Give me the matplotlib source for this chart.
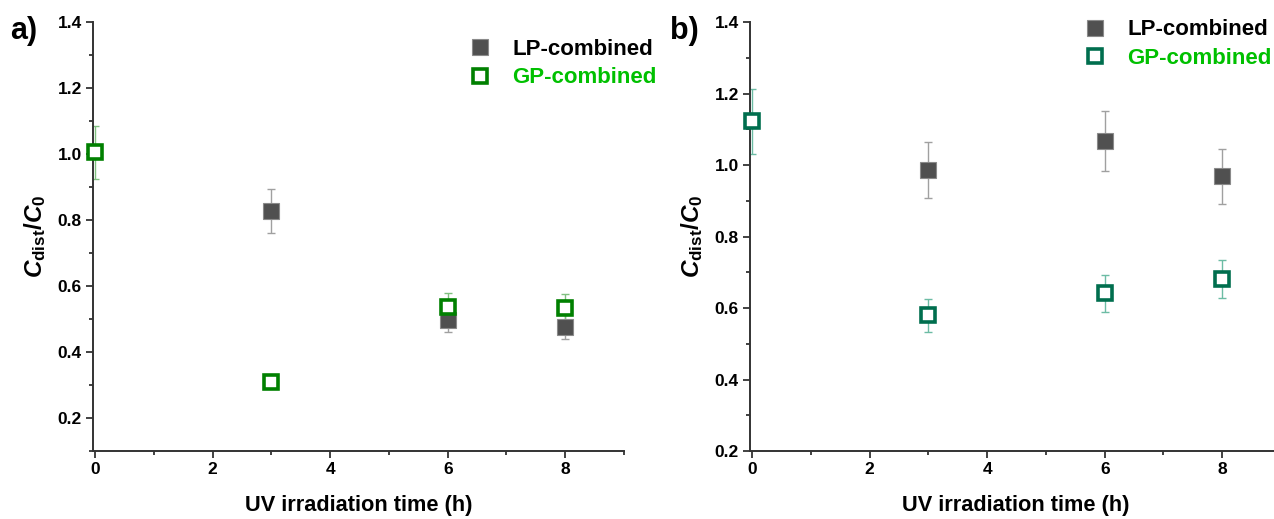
"""Normalised dissolved concentration vs UV irradiation time, two panels."""

import matplotlib

matplotlib.use("Agg")
import matplotlib.pyplot as plt
from matplotlib.ticker import MultipleLocator

plt.rcParams["font.family"] = ["Liberation Sans", "DejaVu Sans"]
plt.rcParams["font.weight"] = "bold"
plt.rcParams["mathtext.fontset"] = "custom"
plt.rcParams["mathtext.rm"] = "Liberation Sans:bold"
plt.rcParams["mathtext.it"] = "Liberation Sans:italic:bold"
plt.rcParams["mathtext.bf"] = "Liberation Sans:bold"

# Panel a
a_lp_x = [3, 6, 8]
a_lp_y = [0.828, 0.497, 0.477]
a_lp_err = [0.066, 0.036, 0.037]
a_gp_x = [0, 3, 6, 8]
a_gp_y = [1.005, 0.308, 0.535, 0.533]
a_gp_err = [0.08, 0.0, 0.043, 0.043]

# Panel b
b_lp_x = [3, 6, 8]
b_lp_y = [0.987, 1.067, 0.968]
b_lp_err = [0.078, 0.085, 0.076]
b_gp_x = [0, 3, 6, 8]
b_gp_y = [1.122, 0.580, 0.641, 0.681]
b_gp_err = [0.09, 0.046, 0.051, 0.054]

labels = ["LP-combined", "GP-combined"]

fig = plt.figure(figsize=(12.74, 5.19), dpi=100)
ax_a = fig.add_axes([0.073, 0.131, 0.4168, 0.8266])
ax_b = fig.add_axes([0.5887, 0.131, 0.4168, 0.8266])

panels = [
    (ax_a, a_lp_x, a_lp_y, a_lp_err, a_gp_x, a_gp_y, a_gp_err,
     "#008000", "#80c080", (0.1, 1.4), "a)", 0.008, (0.670, 0.982)),
    (ax_b, b_lp_x, b_lp_y, b_lp_err, b_gp_x, b_gp_y, b_gp_err,
     "#006e4e", "#6cbca4", (0.2, 1.4), "b)", 0.526, (0.591, 1.027)),
]

for (ax, lx, ly, le, gx, gy, ge, gcol, gerr, ylim, tag, tag_x, leg_pos) in panels:
    ax.errorbar(lx, ly, yerr=le, fmt="none", ecolor="#a0a0a0", elinewidth=1.0,
                capsize=3, capthick=1.0, zorder=2)
    ax.errorbar(gx, gy, yerr=ge, fmt="none", ecolor=gerr, elinewidth=1.0,
                capsize=3, capthick=1.0, zorder=2)
    h_lp, = ax.plot(lx, ly, "s", ms=11, mfc="#505050", mec="#8a8a8a", mew=0.8,
                    ls="none", zorder=3, clip_on=False)
    h_gp, = ax.plot(gx, gy, "s", ms=10, mfc="white", mec=gcol, mew=2.6,
                    ls="none", zorder=4, clip_on=False)

    ax.set_xlim(-0.035, 9)
    ax.set_ylim(*ylim)
    ax.xaxis.set_major_locator(MultipleLocator(2))
    ax.xaxis.set_minor_locator(MultipleLocator(1))
    ax.yaxis.set_major_locator(MultipleLocator(0.2))
    ax.yaxis.set_minor_locator(MultipleLocator(0.1))
    ax.tick_params(which="both", direction="out", width=1.3, color="#333333",
                   labelsize=12.5, pad=3)
    ax.tick_params(which="major", length=5)
    ax.tick_params(which="minor", length=3)
    for side in ["top", "right"]:
        ax.spines[side].set_visible(False)
    for side in ["left", "bottom"]:
        ax.spines[side].set_linewidth(1.4)
        ax.spines[side].set_color("#333333")
    for lab in ax.get_xticklabels() + ax.get_yticklabels():
        lab.set_fontweight("bold")

    ax.set_xlabel("UV irradiation time (h)", fontsize=15.7, fontweight="bold",
                  labelpad=13)
    ax.set_ylabel(r"$C_{\mathrm{dist}}/C_0$", fontsize=17.5, labelpad=7)

    ax.legend([h_lp, h_gp], labels, loc="upper left",
              bbox_to_anchor=leg_pos, frameon=False,
              handletextpad=0.45, labelspacing=0.35, borderaxespad=0,
              labelcolor=["black", "#00c000"],
              prop={"weight": "bold", "size": 16})

    fig.text(tag_x, 0.94, tag, fontsize=22, fontweight="bold", va="center")

fig.savefig("out.png", dpi=100)
plt.close(fig)
